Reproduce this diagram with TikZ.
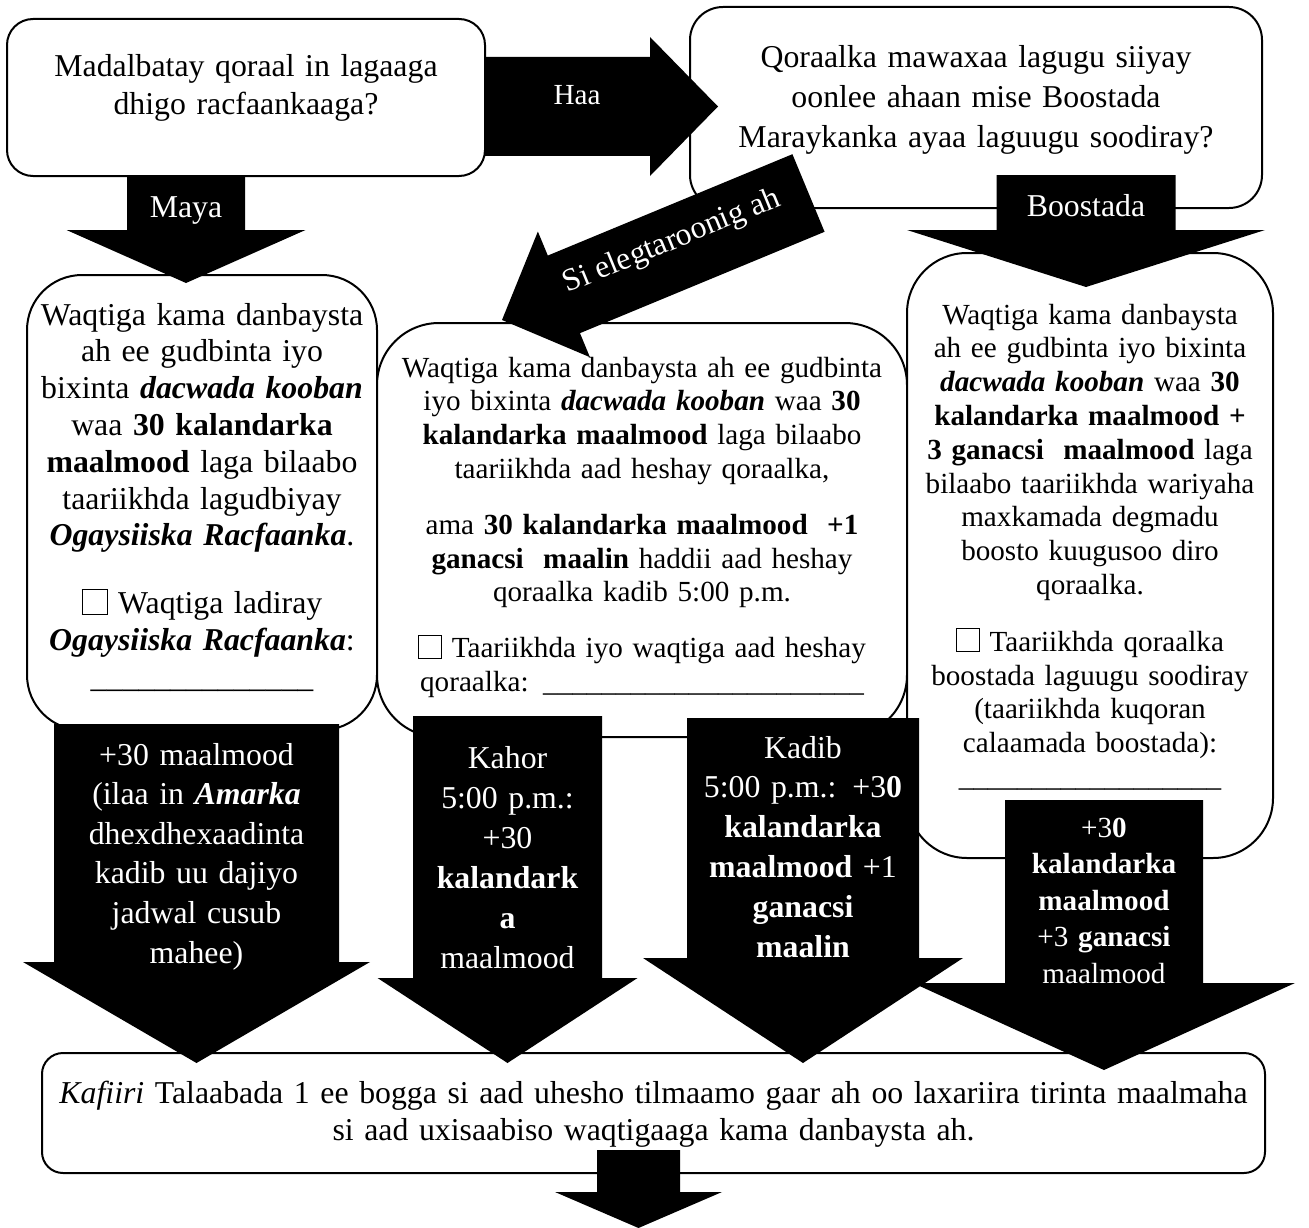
\documentclass[tikz,border=0pt]{standalone}
\usepackage{fontspec}
\setmainfont{Liberation Serif}
\usetikzlibrary{calc}

\newcommand{\tickbox}{{\setlength{\fboxsep}{0pt}\setlength{\fboxrule}{1pt}\fbox{\rule{0pt}{0.75em}\hspace{0.75em}}}}
% tail, tip, half shaft, half head, head length
\newcommand{\blockarrow}[5]{%
  \coordinate (neck) at ($(#2)!#5!(#1)$);
  \fill ($(#1)!#3!90:(#2)$) -- ($(neck)!#3!90:(#2)$) -- ($(neck)!#4!90:(#2)$) -- (#2)
    -- ($(neck)!#4!-90:(#2)$) -- ($(neck)!#3!-90:(#2)$) -- ($(#1)!#3!-90:(#2)$) -- cycle;}

\tikzset{
  panel/.style={draw, line width=2pt, fill=white, inner sep=0pt},
  words/.style={align=center, inner sep=0pt, anchor=base},
  twelve/.style={font=\fontsize{31.8}{#1}\selectfont}, twelve/.default=38,
  eleven/.style={font=\fontsize{29.15}{#1}\selectfont}, eleven/.default=34,
}

\begin{document}
\begin{tikzpicture}[x=1pt,y=-1pt]
\useasboundingbox (0,0) rectangle (1309,1228);

\node[panel, rounded corners=26pt, minimum width=478pt, minimum height=157pt] (ask) at (246,97.5) {};
\node[words, twelve=38, text width=460pt] (ask-t) at (246,77) {Madalbatay qoraal in lagaaga\\dhigo racfaankaaga?};

\node[panel, rounded corners=33pt, minimum width=572pt, minimum height=201pt] (how) at (976,107.5) {};
\node[words, twelve=40, text width=560pt] (how-t) at (976,68) {Qoraalka mawaxaa lagugu siiyay\\oonlee ahaan mise Boostada\\Maraykanka ayaa laguugu soodiray?};

\node[panel, rounded corners=55pt, minimum width=350pt, minimum height=455pt] (appeal) at (202,502.5) {};
\node[words, twelve=36.8, text width=340pt] (appeal-t) at (202,325) {Waqtiga kama danbaysta\\ah ee gudbinta iyo\\bixinta \textbf{\textit{dacwada kooban}}\\waa \textbf{30 kalandarka}\\\textbf{maalmood} laga bilaabo\\taariikhda lagudbiyay\\\textbf{\textit{Ogaysiiska Racfaanka}}.\\[31pt]\tickbox{} Waqtiga ladiray\\\textbf{\textit{Ogaysiiska Racfaanka}}:\\\_\_\_\_\_\_\_\_\_\_\_\_\_\_};

\node[panel, rounded corners=62pt, minimum width=530pt, minimum height=414pt] (online) at (642,530) {};
\node[words, eleven=33.8, text width=520pt] (online-t) at (642,377) {Waqtiga kama danbaysta ah ee gudbinta\\iyo bixinta \textbf{\textit{dacwada kooban}} waa \textbf{30}\\\textbf{kalandarka maalmood} laga bilaabo\\taariikhda aad heshay qoraalka,\\[22pt]ama \textbf{30 kalandarka maalmood\ \ +1}\\\textbf{ganacsi\ \ maalin} haddii aad heshay\\qoraalka kadib 5:00 p.m.\\[22pt]\tickbox{} Taariikhda iyo waqtiga aad heshay\\qoraalka: \_\_\_\_\_\_\_\_\_\_\_\_\_\_\_\_\_\_\_\_\_\_};

\node[panel, rounded corners=60pt, minimum width=366pt, minimum height=605pt] (post) at (1090,555.5) {};
\node[words, eleven=33.8, text width=356pt] (post-t) at (1090,324) {Waqtiga kama danbaysta\\ah ee gudbinta iyo bixinta\\\textbf{\textit{dacwada kooban}} waa \textbf{30}\\\textbf{kalandarka maalmood +}\\\textbf{3 ganacsi\ \ maalmood} laga\\bilaabo taariikhda wariyaha\\maxkamada degmadu\\boosto kuugusoo diro\\qoraalka.\\[23pt]\tickbox{} Taariikhda qoraalka\\boostada laguugu soodiray\\(taariikhda kuqoran\\calaamada boostada):\\\_\_\_\_\_\_\_\_\_\_\_\_\_\_\_\_\_\_};

\node[panel, rounded corners=21pt, minimum width=1223pt, minimum height=120pt] (count) at (653.5,1113) {};
\node[words, twelve=37, text width=1210pt] (count-t) at (653.5,1103) {\textit{Kafiiri} Talaabada 1 ee bogga si aad uhesho tilmaamo gaar ah oo laxariira tirinta maalmaha\\si aad uxisaabiso waqtigaaga kama danbaysta ah.};

\coordinate (yes-s) at (485,106.5);
\coordinate (yes-e) at (718,106.5);
\blockarrow{yes-s}{yes-e}{49.5pt}{69.5pt}{68pt}
\node[words, eleven, text=white] (yes) at (577,105) {Haa};

\coordinate (no-s) at (186,176);
\coordinate (no-e) at (186,283);
\blockarrow{no-s}{no-e}{59pt}{119.5pt}{53pt}
\node[words, twelve, text=white] (no) at (186,217) {Maya};

\coordinate (mail-s) at (1086,175);
\coordinate (mail-e) at (1086,287);
\blockarrow{mail-s}{mail-e}{89.5pt}{179pt}{57pt}
\node[words, twelve, text=white] (mail) at (1086,216) {Boostada};

\coordinate (web-s) at (808.5,193);
\coordinate (web-e) at (502,320);
\blockarrow{web-s}{web-e}{42pt}{68pt}{67pt}
\node[twelve, text=white, inner sep=0pt, rotate=22.3] (web) at (672,242) {Si elegtaroonig ah};

\coordinate (wait-s) at (196.5,724);
\coordinate (wait-e) at (196.5,1063);
\blockarrow{wait-s}{wait-e}{142.5pt}{173.5pt}{101pt}
\node[words, twelve=39.6, text=white, text width=270pt] (wait) at (196.5,765) {+30 maalmood\\(ilaa in \textbf{\textit{Amarka}}\\dhexdhexaadinta\\kadib uu dajiyo\\jadwal cusub\\mahee)};

\coordinate (early-s) at (507.5,716);
\coordinate (early-e) at (507.5,1063);
\blockarrow{early-s}{early-e}{94.5pt}{130pt}{85pt}
\node[words, twelve=40, text=white, text width=180pt] (early) at (507.5,768) {Kahor\\5:00 p.m.:\\+30\\\textbf{kalandark}\\\textbf{a}\\maalmood};

\coordinate (late-s) at (803,718);
\coordinate (late-e) at (803,1063);
\blockarrow{late-s}{late-e}{116pt}{160pt}{105pt}
\node[words, twelve=39.8, text=white, text width=225pt] (late) at (803,758) {Kadib\\5:00 p.m.: +3\textbf{0}\\\textbf{kalandarka}\\\textbf{maalmood} +1\\\textbf{ganacsi}\\\textbf{maalin}};

\coordinate (mailed-s) at (1104,800);
\coordinate (mailed-e) at (1104,1070);
\blockarrow{mailed-s}{mailed-e}{99pt}{191pt}{87pt}
\node[words, eleven=36.5, text=white, text width=190pt] (mailed) at (1104,837) {+3\textbf{0}\\\textbf{kalandarka}\\\textbf{maalmood}\\+3 \textbf{ganacsi}\\maalmood};

\coordinate (next-s) at (638.5,1150);
\coordinate (next-e) at (638.5,1228);
\blockarrow{next-s}{next-e}{41.5pt}{83.5pt}{36pt}
\end{tikzpicture}
\end{document}
